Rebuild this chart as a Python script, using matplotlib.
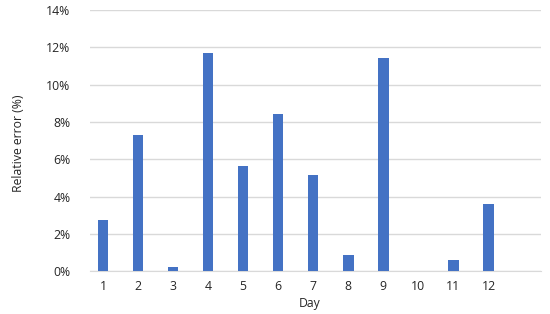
import matplotlib.pyplot as plt
from matplotlib.ticker import PercentFormatter

# relative error per day (%)
days = ['1', '2', '3', '4', '5', '6', '7', '8', '9', '10', '11', '12']
rel_error = [2.75, 7.28, 0.25, 11.71, 5.63, 8.41, 5.15, 0.87, 11.41, 0.0, 0.59, 3.63]

plt.rcParams['font.family'] = ['Open Sans', 'DejaVu Sans']

fig = plt.figure(figsize=(5.5, 3.14), dpi=100)
ax = fig.add_axes([90 / 550, (314 - 271.3) / 314, 451 / 550, 261.3 / 314])

x = list(range(1, len(days) + 1))
ax.bar(x, rel_error, width=0.3, color='#4472C4', zorder=3)

ax.set_xlim(0.63, 13.5)
ax.set_ylim(0, 14)
ax.set_xticks(x)
ax.set_xticklabels(days)
ax.set_yticks(range(0, 15, 2))
ax.yaxis.set_major_formatter(PercentFormatter(decimals=0))

ax.grid(axis='y', color='#D9D9D9', linewidth=1, zorder=0)
for s in ['top', 'right', 'left']:
    ax.spines[s].set_visible(False)
ax.spines['bottom'].set_color('#D9D9D9')
ax.tick_params(axis='both', length=0, labelsize=8.8, colors='#262626')
ax.tick_params(axis='y', pad=14)
ax.tick_params(axis='x', pad=6)

ax.set_xlabel('Day', fontsize=8.8, color='#262626')
ax.set_ylabel('Relative error (%)', fontsize=8.8, color='#262626')
ax.xaxis.set_label_coords(0.486, -0.097)
ax.yaxis.set_label_coords(-0.145, 0.489)

fig.savefig('out.png', dpi=100)
